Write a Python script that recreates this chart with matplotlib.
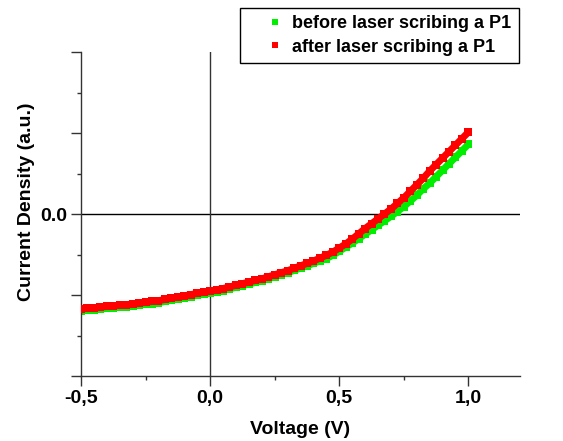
import numpy as np
import matplotlib.pyplot as plt
from matplotlib.ticker import MultipleLocator, FixedLocator

plt.rcParams['font.family'] = ['Liberation Sans', 'DejaVu Sans']
plt.rcParams['font.weight'] = 'bold'

# --- data (voltage in V, current density in a.u.) ---
voltage = np.round(np.arange(-0.5, 1.0001, 0.025), 3)

before_p1 = [-1.195, -1.185, -1.18, -1.175, -1.165, -1.16, -1.15, -1.145, -1.135, -1.125,
             -1.115, -1.105, -1.095, -1.08, -1.065, -1.05, -1.035, -1.02, -1.005, -0.99,
             -0.975, -0.96, -0.945, -0.925, -0.905, -0.885, -0.865, -0.845, -0.825, -0.80,
             -0.775, -0.75, -0.725, -0.697, -0.668, -0.64, -0.61, -0.58, -0.55, -0.51,
             -0.46, -0.41, -0.36, -0.305, -0.25, -0.195, -0.14, -0.085, -0.03, 0.03,
             0.09, 0.16, 0.23, 0.31, 0.38, 0.46, 0.54, 0.62, 0.70, 0.78, 0.86]

after_p1 = [-1.17, -1.16, -1.155, -1.15, -1.14, -1.135, -1.125, -1.12, -1.11, -1.10,
            -1.09, -1.08, -1.07, -1.055, -1.04, -1.025, -1.01, -0.995, -0.98, -0.965,
            -0.95, -0.935, -0.92, -0.90, -0.88, -0.86, -0.84, -0.82, -0.80, -0.775,
            -0.75, -0.725, -0.70, -0.67, -0.64, -0.61, -0.58, -0.545, -0.51, -0.47,
            -0.42, -0.37, -0.31, -0.245, -0.18, -0.12, -0.06, 0.0, 0.06, 0.13,
            0.20, 0.28, 0.36, 0.44, 0.53, 0.61, 0.69, 0.77, 0.85, 0.93, 1.01]

labels = ["before laser scribing a P1", "after laser scribing a P1"]
colors = ["#00ee00", "#ff0000"]

fig = plt.figure(figsize=(5.63, 4.41), dpi=100)
ax = fig.add_axes([0.1439, 0.1474, 0.7797, 0.7346])

ax.axhline(0, color='black', lw=1.0, zorder=1)
ax.axvline(0, color='#333333', lw=1.0, zorder=1)

# thick line underneath so the square markers form a continuous band
for y, c, z in [(before_p1, colors[0], 2), (after_p1, colors[1], 3)]:
    ax.plot(voltage, y, color=c, lw=5.0, solid_capstyle='butt', zorder=z)
ax.plot(voltage, before_p1, ls='none', marker='s', ms=5.2, mew=0,
        color=colors[0], zorder=2)
ax.plot(voltage, after_p1, ls='none', marker='s', ms=5.2, mew=0,
        color=colors[1], zorder=3)
# legend proxies
for lab, c in zip(labels, colors):
    ax.plot([], [], ls='none', marker='s', ms=4.2, mew=0, color=c, label=lab)

ax.set_xlim(-0.5, 1.2)
ax.set_ylim(-2, 2)

for s in ['top', 'right']:
    ax.spines[s].set_visible(False)
for s in ['left', 'bottom']:
    ax.spines[s].set_color('#333333')
    ax.spines[s].set_linewidth(1.0)

ax.xaxis.set_major_locator(FixedLocator([-0.5, 0.0, 0.5, 1.0]))
ax.set_xticklabels(['-0,5', '0,0', '0,5', '1,0'])
ax.xaxis.set_minor_locator(FixedLocator([-0.25, 0.25, 0.75]))
ax.yaxis.set_major_locator(MultipleLocator(1))
ax.set_yticklabels(['' if v != 0 else '0.0' for v in ax.get_yticks()])
ax.yaxis.set_minor_locator(MultipleLocator(0.5))

ax.tick_params(which='major', length=7, width=1, color='#333333', labelsize=14, pad=3)
ax.tick_params(which='minor', length=3, width=1, color='#333333')
for lab in ax.get_xticklabels() + ax.get_yticklabels():
    lab.set_fontweight('bold')

ax.set_xlabel('Voltage (V)', fontsize=14, fontweight='bold', labelpad=10)
ax.set_ylabel('Current Density (a.u.)', fontsize=14, fontweight='bold')
ax.yaxis.set_label_coords(-0.105, 0.537)

handles, labs = ax.get_legend_handles_labels()
leg = fig.legend(handles, labs, loc='upper left', bbox_to_anchor=(240 / 563, 1 - 8 / 441),
                 frameon=True, fancybox=False, edgecolor='black', framealpha=1,
                 handlelength=3.1, handletextpad=-0.6, borderpad=0.4, labelspacing=0.35,
                 prop={'weight': 'bold', 'size': 13}, borderaxespad=0)
leg.get_frame().set_linewidth(1.0)

plt.savefig("out.png", dpi=100)
